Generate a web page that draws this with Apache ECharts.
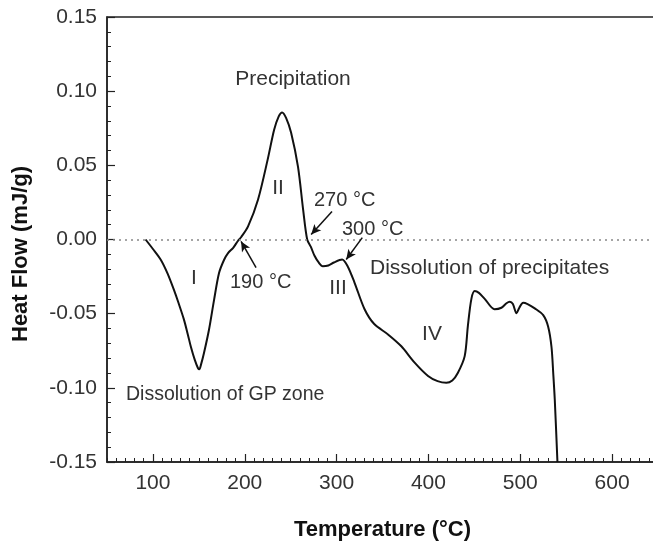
<!DOCTYPE html>
<html>
<head>
<meta charset="utf-8">
<script src="https://cdn.jsdelivr.net/npm/echarts@6/dist/echarts.min.js"></script>
<style>
  html, body { margin: 0; padding: 0; background: #fff; }
  #chart { width: 653px; height: 543px; }
</style>
</head>
<body>
<div id="chart"></div>
<script>
// DSC curve
const temperature = [92, 100, 108.7, 116, 122.9, 128, 133.8, 138, 141.4, 145.5, 149, 150.5, 152.5, 155.6, 161, 166.5,
  172, 177.4, 182, 187.2, 192.5, 196, 203.6, 214.5, 225, 232, 237, 240.7, 245, 250.5, 258, 263.6, 268, 272, 276,
  280.5, 285, 291, 297, 306, 312, 319.5, 330.5, 341, 356, 370.5, 385, 399.6, 410, 419.5, 426, 432, 439.5, 443, 446.8,
  450.4, 455, 461.3, 472, 479.5, 485, 488.6, 492, 495.9, 499, 503.2, 508, 515.8, 525, 530.4, 534, 535.9, 537.6, 540.5];
const heatFlow = [0, -0.0064, -0.0138, -0.023, -0.034, -0.043, -0.054, -0.064, -0.0725, -0.081, -0.0866, -0.0875,
  -0.084, -0.0765, -0.061, -0.041, -0.0226, -0.0138, -0.009, -0.0058, -0.001, 0.0015, 0.0088, 0.027, 0.054, 0.074,
  0.083, 0.0857, 0.082, 0.072, 0.049, 0.020, 0, -0.005, -0.011, -0.0155, -0.018, -0.0175, -0.0155, -0.0135, -0.018,
  -0.029, -0.047, -0.057, -0.064, -0.072, -0.083, -0.092, -0.0955, -0.0966, -0.095, -0.090, -0.0786, -0.058, -0.040,
  -0.0348, -0.036, -0.040, -0.047, -0.046, -0.043, -0.042, -0.0435, -0.0498, -0.046, -0.0426, -0.0435, -0.0464,
  -0.051, -0.0588, -0.0723, -0.090, -0.108, -0.15];

const xTicks = [100, 200, 300, 400, 500, 600];

// arrows pointing at the marked temperatures: [from, to] in data units
const arrows = [
  [[212.3, -0.0189], [196, -0.0013]],
  [[295, 0.0189], [272.3, 0.0034]],
  [[328, 0.0013], [310.5, -0.0135]],
];

const chart = echarts.init(document.getElementById('chart'));
const txt = '#333';
const axisCol = '#222';

function label(text, x, y, size, align) {
  return {
    type: 'text', x: x, y: y, z: 10,
    style: {
      text: text, fill: txt, font: size + 'px "Liberation Sans", Arial, sans-serif',
      align: align || 'center', verticalAlign: 'middle'
    }
  };
}

chart.setOption({
  animation: false,
  grid: {
    left: 107, top: 17, width: 551, height: 445,
    containLabel: false, outerBoundsMode: 'none',
    show: true, borderColor: axisCol, borderWidth: 1.5
  },
  xAxis: [
    {
      // minor ticks every 10 °C
      type: 'value', min: 50, max: 650, interval: 10, position: 'bottom',
      axisLine: { show: true, onZero: false, lineStyle: { color: axisCol, width: 1.5 } },
      axisTick: { show: true, inside: true, length: 4, lineStyle: { color: axisCol, width: 1 } },
      axisLabel: { show: false },
      splitLine: { show: false }
    },
    {
      type: 'value', min: 50, max: 650, position: 'bottom',
      name: 'Temperature (°C)', nameLocation: 'middle', nameGap: 57,
      nameTextStyle: { fontSize: 22, fontWeight: 'bold', color: '#111', fontFamily: 'Liberation Sans' },
      axisLine: { show: false, onZero: false },
      axisTick: { show: true, inside: true, length: 8, customValues: xTicks, lineStyle: { color: axisCol, width: 1.2 } },
      axisLabel: { fontSize: 21, color: txt, margin: 11, fontFamily: 'Liberation Sans', customValues: xTicks },
      splitLine: { show: false }
    }
  ],
  yAxis: {
    type: 'value', min: -0.15, max: 0.15, interval: 0.05,
    axisLine: { show: true, onZero: false, lineStyle: { color: axisCol, width: 1.5 } },
    axisTick: { show: true, inside: true, length: 8, lineStyle: { color: axisCol, width: 1.2 } },
    minorTick: { show: true, splitNumber: 5, length: 4, lineStyle: { color: axisCol, width: 1 } },
    axisLabel: {
      fontSize: 21, color: txt, margin: 10, fontFamily: 'Liberation Sans',
      formatter: v => v.toFixed(2)
    },
    splitLine: { show: false }
  },
  series: [
    {
      type: 'line',
      xAxisIndex: 0,
      data: temperature.map((t, i) => [t, heatFlow[i]]),
      showSymbol: false,
      smooth: 0.3,
      lineStyle: { color: '#111', width: 2 },
      markLine: {
        silent: true,
        animation: false,
        label: { show: false },
        symbol: 'none',
        data: [{ yAxis: 0, lineStyle: { color: '#888', type: [2, 4], width: 1.5 } }]
          .concat(arrows.map(a => [
            { coord: a[0], symbol: 'none', lineStyle: { color: '#111', type: 'solid', width: 1.5 } },
            { coord: a[1], symbol: 'arrow', symbolSize: [7, 10] }
          ]))
      }
    }
  ],
  graphic: [
    {
      type: 'text', x: 21, y: 254, rotation: Math.PI / 2, z: 10,
      style: {
        text: 'Heat Flow (mJ/g)', fill: '#111', font: 'bold 22px "Liberation Sans", Arial, sans-serif',
        align: 'center', verticalAlign: 'middle'
      }
    },
    label('Precipitation', 293, 79, 21),
    label('Dissolution of GP zone', 126, 395, 19.5, 'left'),
    label('Dissolution of precipitates', 370, 268, 21, 'left'),
    label('I', 194, 278, 21),
    label('II', 278, 188, 21),
    label('III', 338, 288, 21),
    label('IV', 432, 334, 21),
    label('190 °C', 230, 282, 20, 'left'),
    label('270 °C', 314, 200, 20, 'left'),
    label('300 °C', 342, 229, 20, 'left')
  ]
});
</script>
</body>
</html>
